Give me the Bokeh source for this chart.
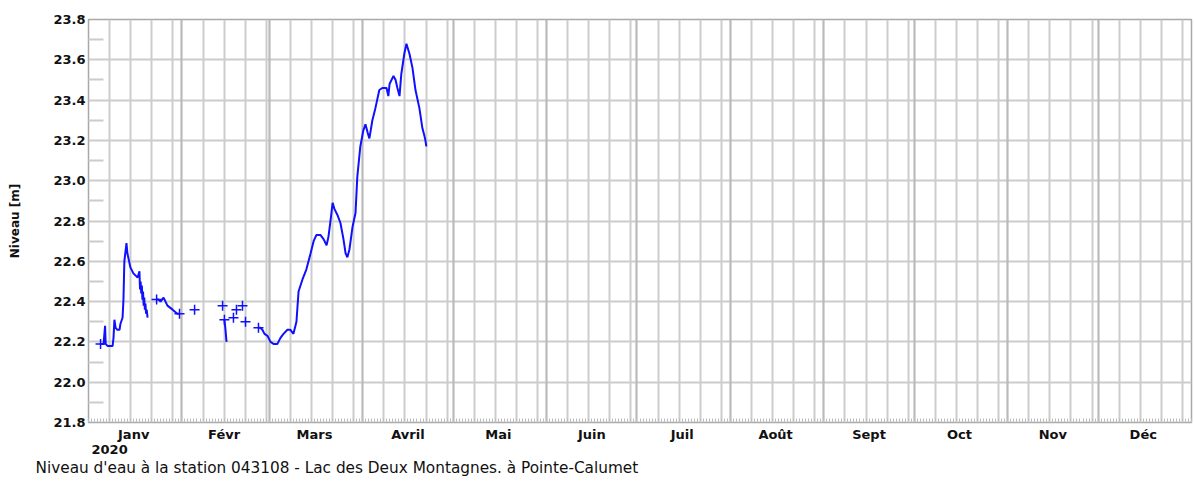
from bokeh.plotting import figure
from bokeh.models import FixedTicker, Grid, LinearAxis, Title, NumeralTickFormatter, Range1d
from bokeh.embed import file_html
from bokeh.resources import INLINE

# ---------------- data ----------------
month_names = ["Janv", "Févr", "Mars", "Avril", "Mai", "Juin",
               "Juil", "Août", "Sept", "Oct", "Nov", "Déc"]
month_lengths = [31, 29, 31, 30, 31, 30, 31, 31, 30, 31, 30, 31]
year_label = "2020"
y_ticks = [21.8, 22.0, 22.2, 22.4, 22.6, 22.8, 23.0, 23.2, 23.4, 23.6, 23.8]
y_minor = [21.9, 22.1, 22.3, 22.5, 22.7, 22.9, 23.1, 23.3, 23.5, 23.7]

# day of year (0 = 1 Jan 2020 00:00), water level [m]
seg1_day = [4.0, 5.0, 5.5, 5.7, 6.3, 8.0, 8.3, 8.6, 9.0, 9.6, 10.3, 10.6, 11.3, 11.6,
            11.9, 12.6, 12.9, 13.9, 14.9, 16.3, 16.9, 17.1, 17.3, 17.5, 17.7, 17.9,
            18.1, 18.3, 18.5, 18.7, 18.9, 19.1, 19.3, 19.6]
seg1_level = [22.19, 22.19, 22.28, 22.19, 22.18, 22.18, 22.22, 22.31, 22.27, 22.26, 22.26,
              22.29, 22.32, 22.41, 22.60, 22.69, 22.64, 22.57, 22.54, 22.52, 22.55, 22.46,
              22.50, 22.44, 22.48, 22.41, 22.45, 22.38, 22.42, 22.36, 22.39, 22.34, 22.36, 22.32]

seg2_day = [22.6, 23.2, 23.9, 24.9, 26.2, 27.9, 29.5, 30.2]
seg2_level = [22.41, 22.41, 22.40, 22.42, 22.38, 22.36, 22.34, 22.34]

seg3_day = [45.1, 45.4, 45.8]
seg3_level = [22.31, 22.27, 22.20]

seg4_day = [56.4, 57.1, 57.7, 58.4, 59.4, 60.4, 61.4, 62.7, 63.7, 64.7, 66.0, 67.0, 68.0,
            69.0, 69.7, 71.0, 72.3, 73.7, 74.7, 75.6, 77.0, 78.0, 79.0, 79.6, 80.3, 81.0,
            81.6, 82.6, 83.6, 84.6, 85.3, 85.9, 86.6, 87.6, 88.6, 89.2, 90.2, 91.2, 91.9,
            92.6, 93.2, 94.2, 95.2, 96.5, 97.5, 98.9, 99.5, 99.9, 101.2, 101.9, 102.5,
            103.2, 103.8, 104.8, 105.5, 106.5, 107.5, 108.5, 109.8, 110.8, 111.5, 111.8, 112.1]
seg4_level = [22.27, 22.27, 22.26, 22.24, 22.23, 22.20, 22.19, 22.19, 22.22, 22.24, 22.26,
              22.26, 22.24, 22.30, 22.45, 22.51, 22.56, 22.64, 22.70, 22.73, 22.73, 22.71,
              22.68, 22.72, 22.80, 22.89, 22.86, 22.83, 22.79, 22.71, 22.64, 22.62, 22.66,
              22.77, 22.84, 23.02, 23.17, 23.25, 23.28, 23.24, 23.21, 23.30, 23.36, 23.45,
              23.46, 23.46, 23.42, 23.48, 23.52, 23.50, 23.46, 23.42, 23.53, 23.63, 23.68,
              23.63, 23.56, 23.45, 23.36, 23.26, 23.22, 23.20, 23.17]

pts_day = [4.0, 22.6, 30.2, 35.2, 44.5, 45.1, 48.1, 49.1, 51.1, 52.1, 56.4]
pts_level = [22.19, 22.41, 22.34, 22.36, 22.38, 22.31, 22.32, 22.36, 22.38, 22.30, 22.27]

title_text = "Niveau d'eau à la station 043108 - Lac des Deux Montagnes. à Pointe-Calumet"
y_label = "Niveau [m]"

# ---------------- derived tick positions ----------------
month_starts = [0]
for L in month_lengths:
    month_starts.append(month_starts[-1] + L)
label_ticks = [s + L // 2 for s, L in zip(month_starts[:-1], month_lengths)]
week_lines = [s + k for s, L in zip(month_starts[:-1], month_lengths) for k in (7, 14, 21, 28) if k < L]
n_days = month_starts[-1]

FONT = "DejaVu Sans"
BLUE = "#1010ff"
GRID = "#cccccc"

p = figure(width=1194, height=489, output_backend="svg", toolbar_location=None,
           x_range=Range1d(0, n_days), y_range=Range1d(21.8, 23.8),
           min_border_left=88, min_border_top=19, min_border_right=3, min_border_bottom=67)
p.background_fill_color = "white"
p.border_fill_color = "white"
p.outline_line_color = "#a8a8a8"
p.outline_line_width = 1.5

# grids
p.xgrid.ticker = FixedTicker(ticks=week_lines)
p.xgrid.grid_line_color = GRID
p.xgrid.grid_line_width = 2
p.ygrid.ticker = FixedTicker(ticks=y_ticks)
p.ygrid.grid_line_color = GRID
p.ygrid.grid_line_width = 2
mgrid = Grid(dimension=0, ticker=FixedTicker(ticks=month_starts),
             grid_line_color="#bababa", grid_line_width=2.2)
p.add_layout(mgrid)

# y axis
ya = p.yaxis[0]
ya.ticker = FixedTicker(ticks=y_ticks, minor_ticks=y_minor)
ya.formatter = NumeralTickFormatter(format="0.0")
ya.axis_line_color = None
ya.major_tick_in = 0
ya.major_tick_out = 0
ya.minor_tick_in = 15
ya.minor_tick_out = 0
ya.minor_tick_line_color = GRID
ya.minor_tick_line_width = 2
ya.major_label_standoff = 3
ya.major_label_text_font = FONT
ya.major_label_text_font_style = "bold"
ya.major_label_text_font_size = "13px"
ya.major_label_text_color = "#111111"
ya.axis_label = y_label
ya.axis_label_text_font = FONT
ya.axis_label_text_font_style = "bold"
ya.axis_label_text_font_size = "12px"
ya.axis_label_standoff = 28
ya.axis_label_text_color = "#111111"

# x axis
xa = p.xaxis[0]
xa.ticker = FixedTicker(ticks=label_ticks, minor_ticks=list(range(0, n_days + 1)))
xa.major_label_overrides = {t: n for t, n in zip(label_ticks, month_names)}
xa.axis_line_color = None
xa.major_tick_in = 0
xa.major_tick_out = 0
xa.minor_tick_in = 4
xa.minor_tick_out = 0
xa.minor_tick_line_color = "#bdbdbd"
xa.minor_tick_line_width = 1
xa.major_label_standoff = 4
xa.major_label_text_font = FONT
xa.major_label_text_font_style = "bold"
xa.major_label_text_font_size = "13px"
xa.major_label_text_color = "#111111"

ya2 = LinearAxis(ticker=FixedTicker(ticks=[7]), major_label_overrides={7: year_label})
ya2.axis_line_color = None
ya2.major_tick_in = 0
ya2.major_tick_out = 0
ya2.minor_tick_in = 0
ya2.minor_tick_out = 0
ya2.major_label_standoff = 0
ya2.major_label_text_font = FONT
ya2.major_label_text_font_style = "bold"
ya2.major_label_text_font_size = "13px"
ya2.major_label_text_color = "#111111"
p.add_layout(ya2, "below")

t = Title(text=title_text, align="left", offset=-53, text_font=FONT,
          text_font_size="15.3px", text_font_style="normal", text_color="#111111", standoff=1)
p.add_layout(t, "below")

# data
for d, v in ((seg1_day, seg1_level), (seg2_day, seg2_level),
             (seg3_day, seg3_level), (seg4_day, seg4_level)):
    p.line(d, v, line_color=BLUE, line_width=2)
p.scatter(pts_day, pts_level, marker="cross", size=10, line_color=BLUE, line_width=1.5)

open("out.html", "w").write(file_html(p, INLINE))
